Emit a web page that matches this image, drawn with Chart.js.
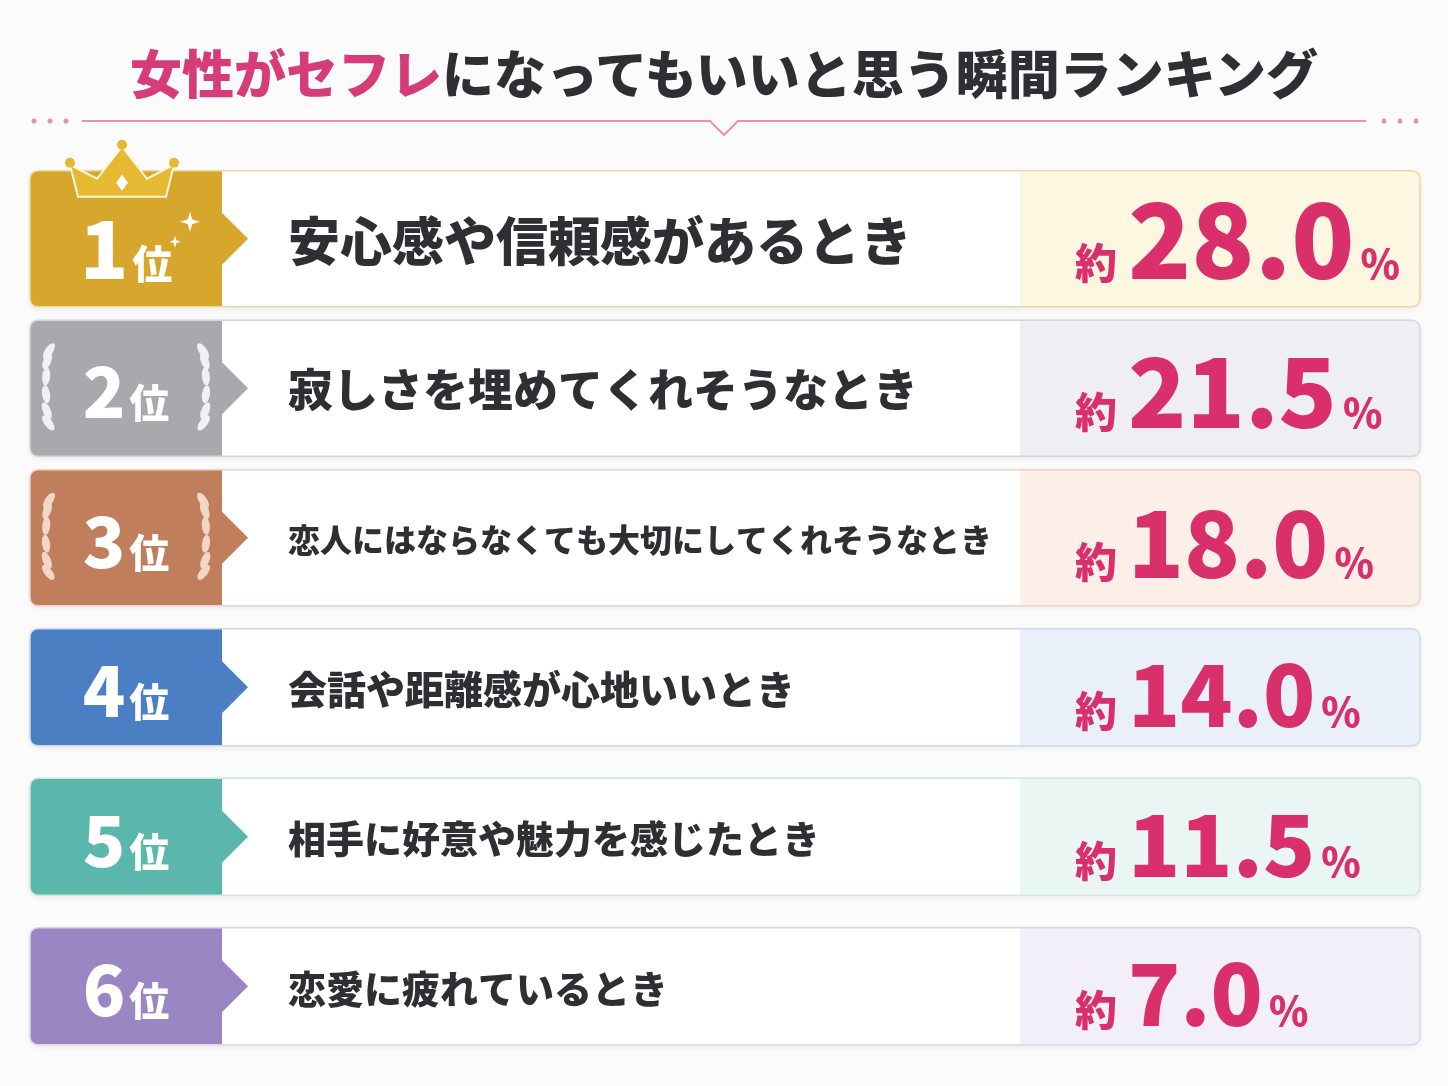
<!DOCTYPE html>
<html><head><meta charset="utf-8">
<script src="https://cdn.jsdelivr.net/npm/chart.js@4/dist/chart.umd.min.js"></script>
<style>
body{margin:0;background:#fbfbfc;font-family:"Noto Sans CJK JP",sans-serif;}
#wrap{position:relative;width:1448px;height:1086px;}
#title{position:absolute;top:34px;left:0;width:1448px;text-align:center;font-size:52px;font-weight:900;color:#2f2f33;letter-spacing:0px;}
#title span{color:#d63b7a;}
canvas{position:absolute;left:0;top:0;}
</style></head>
<body><div id="wrap">
<canvas id="c" width="1448" height="1086"></canvas>
<div id="title"><span>女性がセフレ</span>になってもいいと思う瞬間ランキング</div>
</div>
<script>
// データ
const ranks = ['1', '2', '3', '4', '5', '6'];
const reasons = ['安心感や信頼感があるとき', '寂しさを埋めてくれそうなとき', '恋人にはならなくても大切にしてくれそうなとき', '会話や距離感が心地いいとき', '相手に好意や魅力を感じたとき', '恋愛に疲れているとき'];
const percents = [28.0, 21.5, 18.0, 14.0, 11.5, 7.0];
const badgeColors = ['#d6a72c', '#a8a8ad', '#c07e5d', '#4b7fc3', '#5bb7ab', '#9a86c3'];
const panelColors = ['#fdf6e1', '#efeff3', '#fcefe7', '#eaf0f9', '#eaf6f4', '#f2eff8'];
const borderColors = ['#ead9a0', '#d6d6da', '#ecd3c6', '#cdd9ec', '#cfe7e2', '#dcd6ea'];
const reasonSizes = [52, 45, 32, 39, 38, 38];

const FONT = '"Noto Sans CJK JP", sans-serif';

function leaves(ctx, cx, cy, dir, color) {
  ctx.save();
  ctx.fillStyle = color;
  for (let i = 0; i < 6; i++) {
    const a = -1.2 + i * 0.45;
    const x = cx - dir * 12 * Math.cos(a * 0.6);
    const y = cy + Math.sin(a) * 40;
    ctx.beginPath();
    ctx.ellipse(x, y, 4, 9, dir * (0.6 - i * 0.25), 0, Math.PI * 2);
    ctx.fill();
  }
  ctx.restore();
}

const cardPlugin = {
  id: 'cards',
  beforeDatasetsDraw(chart) {
    const ctx = chart.ctx, y = chart.scales.y;
    const left = 30, right = 1420, badgeW = 192, panelX = 1020;
    ranks.forEach((r, i) => {
      const cy = y.getPixelForValue(i);
      const h = i < 3 ? 136 : 117;
      const top = cy - h / 2;
      ctx.save();
      ctx.shadowColor = 'rgba(0,0,0,0.08)'; ctx.shadowBlur = 6; ctx.shadowOffsetY = 2;
      ctx.fillStyle = '#ffffff';
      ctx.beginPath(); ctx.roundRect(left, top, right - left, h, 8); ctx.fill();
      ctx.restore();
      ctx.save();
      ctx.beginPath(); ctx.roundRect(left, top, right - left, h, 8); ctx.clip();
      ctx.fillStyle = panelColors[i];
      ctx.fillRect(panelX, top, right - panelX, h);
      ctx.fillStyle = badgeColors[i];
      ctx.fillRect(left, top, badgeW, h);
      ctx.restore();
      ctx.fillStyle = badgeColors[i];
      ctx.beginPath();
      ctx.moveTo(left + badgeW, cy - 26); ctx.lineTo(left + badgeW + 26, cy); ctx.lineTo(left + badgeW, cy + 26);
      ctx.fill();
      ctx.strokeStyle = borderColors[i]; ctx.lineWidth = 1.5;
      ctx.beginPath(); ctx.roundRect(left, top, right - left, h, 8); ctx.stroke();
      if (i === 1 || i === 2) {
        const lc = i === 1 ? '#f1f1f3' : '#f3d6c4';
        leaves(ctx, left + 28, cy, 1, lc);
        leaves(ctx, left + badgeW - 28, cy, -1, lc);
      }
      ctx.fillStyle = '#ffffff';
      ctx.textBaseline = 'alphabetic';
      const ns = i === 0 ? 80 : 70;
      ctx.font = `900 ${ns}px ${FONT}`;
      const nw = ctx.measureText(r).width;
      ctx.font = `900 40px ${FONT}`;
      const kw = ctx.measureText('位').width;
      const sx = left + badgeW / 2 - (nw + kw + 4) / 2;
      const by = cy + (i === 0 ? 40 : 30);
      ctx.font = `900 ${ns}px ${FONT}`;
      ctx.fillText(r, sx, by);
      ctx.font = `900 40px ${FONT}`;
      ctx.fillText('位', sx + nw + 4, by);
      ctx.fillStyle = '#2f2f33';
      ctx.font = `900 ${reasonSizes[i]}px ${FONT}`;
      ctx.textBaseline = 'middle';
      ctx.fillText(reasons[i], 288, cy + 2);
      const numSize = [104, 96, 92, 86, 86, 86][i];
      const val = percents[i].toFixed(1);
      ctx.fillStyle = '#d9306c';
      ctx.textBaseline = 'alphabetic';
      ctx.font = `900 42px ${FONT}`;
      ctx.fillText('約', 1075, cy + 40);
      ctx.font = `900 ${numSize}px ${FONT}`;
      ctx.fillText(val, 1128, cy + 40);
      const vw = ctx.measureText(val).width;
      ctx.font = `900 40px ${FONT}`;
      ctx.fillText('%', 1128 + vw + 6, cy + 40);
    });
    // crown
    const c0 = y.getPixelForValue(0) - 72;
    ctx.fillStyle = '#e6b933'; ctx.strokeStyle = '#fff6d8'; ctx.lineWidth = 2;
    ctx.beginPath();
    ctx.moveTo(78, c0 + 30); ctx.lineTo(70, c0 - 2); ctx.lineTo(97, c0 + 12); ctx.lineTo(122, c0 - 20);
    ctx.lineTo(147, c0 + 12); ctx.lineTo(174, c0 - 2); ctx.lineTo(166, c0 + 30); ctx.closePath(); ctx.fill(); ctx.stroke();
    [[70, c0 - 4], [122, c0 - 22], [174, c0 - 4]].forEach(p => { ctx.beginPath(); ctx.arc(p[0], p[1], 5, 0, 7); ctx.fill(); });
    ctx.fillStyle = '#ffffff';
    ctx.beginPath(); ctx.moveTo(122, c0 + 8); ctx.lineTo(128, c0 + 16); ctx.lineTo(122, c0 + 24); ctx.lineTo(116, c0 + 16); ctx.fill();
    // sparkles
    [[190, c0 + 55, 10], [175, c0 + 75, 6]].forEach(s => {
      ctx.beginPath(); ctx.moveTo(s[0], s[1] - s[2]); ctx.lineTo(s[0] + s[2] * 0.3, s[1]); ctx.lineTo(s[0], s[1] + s[2]);
      ctx.lineTo(s[0] - s[2] * 0.3, s[1]); ctx.closePath(); ctx.fill();
      ctx.beginPath(); ctx.moveTo(s[0] - s[2], s[1]); ctx.lineTo(s[0], s[1] + s[2] * 0.3); ctx.lineTo(s[0] + s[2], s[1]);
      ctx.lineTo(s[0], s[1] - s[2] * 0.3); ctx.closePath(); ctx.fill();
    });
    // divider
    ctx.strokeStyle = '#ec8fac'; ctx.lineWidth = 2;
    ctx.beginPath(); ctx.moveTo(82, 121); ctx.lineTo(710, 121); ctx.lineTo(724, 135); ctx.lineTo(738, 121); ctx.lineTo(1366, 121); ctx.stroke();
    ctx.fillStyle = '#ec8fac';
    [34, 50, 66, 1384, 1400, 1416].forEach(x => { ctx.beginPath(); ctx.arc(x, 121, 2.5, 0, 7); ctx.fill(); });
  }
};

new Chart(document.getElementById('c'), {
  type: 'bar',
  data: { labels: ranks, datasets: [{ data: percents, backgroundColor: 'rgba(0,0,0,0)' }] },
  options: {
    indexAxis: 'y', responsive: false, animation: false,
    layout: { padding: { top: 164, bottom: 25, left: 0, right: 0 } },
    plugins: { legend: { display: false }, tooltip: { enabled: false } },
    scales: { x: { display: false, min: 0, max: 30 }, y: { display: false } }
  },
  plugins: [cardPlugin]
});
</script>
</body></html>
